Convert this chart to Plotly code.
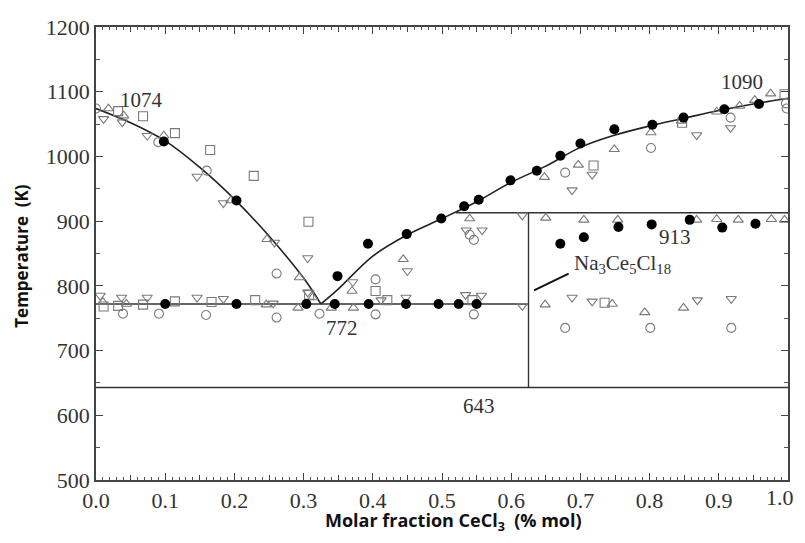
import plotly.graph_objects as go

# ---------------- data ----------------
# liquidus curves
liq_left_x = [0.0, 0.05, 0.10, 0.15, 0.20, 0.25, 0.30, 0.325]
liq_left_y = [1074, 1052, 1024, 983, 934, 877, 812, 772]
liq_right_x = [0.325, 0.35, 0.40, 0.45, 0.50, 0.55, 0.60, 0.65, 0.70, 0.75, 0.80, 0.85, 0.90, 0.95, 1.0]
liq_right_y = [772, 795, 846, 879, 904, 930, 960, 985, 1014, 1033, 1047, 1059, 1071, 1081, 1090]

# invariant lines
eut_x = [0.0, 0.625]
eut_y = [772, 772]
per_x = [0.52, 1.0]
per_y = [913, 913]
comp_x = [0.625, 0.625]
comp_y = [913, 643]
low_x = [0.0, 1.0]
low_y = [643, 643]
lead_x = [0.633, 0.683]
lead_y = [793, 819]

# experimental points
fill_x = [0.098, 0.203, 0.349, 0.393, 0.449, 0.499, 0.532, 0.553, 0.599, 0.637, 0.671, 0.700, 0.749,
          0.804, 0.849, 0.908, 0.958,
          0.100, 0.203, 0.304, 0.345, 0.394, 0.448, 0.495, 0.524, 0.550,
          0.671, 0.705, 0.755, 0.803, 0.858, 0.905, 0.953]
fill_y = [1023, 932, 815, 865, 880, 904, 923, 933, 963, 978, 1001, 1020, 1042,
          1049, 1060, 1073, 1081,
          772, 772, 772, 772, 772, 772, 772, 772, 772,
          865, 875, 891, 895, 902, 890, 896]

circ_x = [0.0, 0.090, 0.160, 0.261, 0.323, 0.404, 0.540, 0.546, 0.678, 0.802, 0.917, 0.998, 0.997,
          0.039, 0.091, 0.159, 0.261, 0.404, 0.546, 0.678, 0.801, 0.918]
circ_y = [1074, 1022, 978, 819, 757, 810, 879, 871, 975, 1013, 1060, 1074, 1082,
          757, 757, 755, 751, 756, 756, 735, 735, 735]

sq_x = [0.032, 0.068, 0.114, 0.165, 0.228, 0.307, 0.308, 0.404, 0.421, 0.719, 0.847, 0.995,
        0.011, 0.032, 0.068, 0.114, 0.167, 0.230, 0.544, 0.735]
sq_y = [1070, 1062, 1036, 1010, 970, 899, 786, 792, 778, 986, 1052, 1096,
        768, 769, 771, 776, 775, 778, 778, 774]

tu_x = [0.018, 0.040, 0.098, 0.195, 0.247, 0.294, 0.313, 0.370, 0.444, 0.540, 0.648, 0.697, 0.749,
        0.802, 0.846, 0.897, 0.930, 0.952, 0.975,
        0.650, 0.705, 0.754, 0.868, 0.897, 0.928, 0.976, 0.995,
        0.010, 0.044, 0.246, 0.292, 0.340, 0.372, 0.649, 0.746, 0.793, 0.849]
tu_y = [1074, 1063, 1032, 932, 872, 813, 782, 792, 841, 904, 968, 987, 1011,
        1037, 1055, 1069, 1078, 1087, 1097,
        905, 902, 902, 902, 903, 902, 903, 902,
        775, 772, 771, 766, 766, 766, 771, 772, 759, 766]

td_x = [0.011, 0.038, 0.074, 0.146, 0.184, 0.258, 0.306, 0.371, 0.450, 0.535, 0.558, 0.616, 0.688,
        0.717, 0.868, 0.917,
        0.006, 0.037, 0.074, 0.146, 0.184, 0.256, 0.306, 0.412, 0.448, 0.534, 0.557, 0.616, 0.688,
        0.717, 0.869, 0.918]
td_y = [1058, 1053, 1032, 969, 928, 867, 843, 806, 823, 886, 886, 909, 948,
        972, 1033, 1044,
        785, 782, 782, 782, 780, 773, 790, 778, 782, 786, 785, 769, 782,
        776, 778, 780]

x_ticks = [0.0, 0.1, 0.2, 0.3, 0.4, 0.5, 0.6, 0.7, 0.8, 0.9, 1.0]
y_ticks = [500, 600, 700, 800, 900, 1000, 1100, 1200]
mid_ticks = [0.05, 0.15, 0.25, 0.35, 0.45, 0.55, 0.65, 0.75, 0.85, 0.95]

labels = [
    dict(text="1074", x=0.066, y=1087, anchor="center"),
    dict(text="1090", x=0.934, y=1115, anchor="center"),
    dict(text="772", x=0.355, y=735, anchor="center"),
    dict(text="913", x=0.836, y=875, anchor="center"),
    dict(text="643", x=0.553, y=615, anchor="center"),
    dict(text="Na<sub>3</sub>Ce<sub>5</sub>Cl<sub>18</sub>", x=0.688, y=834, anchor="left"),
]

# ---------------- figure ----------------
GRAY = "#7a7a7a"
LINE = "#222222"
SERIF = "Liberation Serif, Times New Roman, serif"
SANS = "Open Sans, Noto Sans, sans-serif"

fig = go.Figure()

for xs, ys in [(liq_left_x, liq_left_y), (liq_right_x, liq_right_y)]:
    fig.add_trace(go.Scatter(x=xs, y=ys, mode="lines", line=dict(color=LINE, width=1.6, shape="spline"),
                             hoverinfo="skip", showlegend=False))
for xs, ys in [(eut_x, eut_y), (per_x, per_y), (comp_x, comp_y), (low_x, low_y)]:
    fig.add_trace(go.Scatter(x=xs, y=ys, mode="lines", line=dict(color="#333333", width=1.4),
                             hoverinfo="skip", showlegend=False))
fig.add_trace(go.Scatter(x=lead_x, y=lead_y, mode="lines", line=dict(color="#111111", width=2),
                         hoverinfo="skip", showlegend=False))

open_sets = [
    (circ_x, circ_y, "circle-open"),
    (sq_x, sq_y, "square-open"),
    (tu_x, tu_y, "triangle-up-open"),
    (td_x, td_y, "triangle-down-open"),
]
for xs, ys, sym in open_sets:
    fig.add_trace(go.Scatter(x=xs, y=ys, mode="markers",
                             marker=dict(symbol=sym, size=9, color=GRAY, line=dict(color=GRAY, width=1.1)),
                             showlegend=False))
fig.add_trace(go.Scatter(x=fill_x, y=fill_y, mode="markers",
                         marker=dict(symbol="circle", size=10, color="black"),
                         showlegend=False))
# medium ticks at the half-tenths (drawn as an overlay axis)
fig.add_trace(go.Scatter(x=[0.5], y=[None], xaxis="x2", showlegend=False, hoverinfo="skip"))

for lb in labels:
    fig.add_annotation(x=lb["x"], y=lb["y"], xref="x", yref="y", text=lb["text"], showarrow=False,
                       xanchor=lb["anchor"], yanchor="middle",
                       font=dict(family=SERIF, size=21, color="#333333"))

# the last x tick label sits at the very right edge; it is drawn as an annotation
# nudged just inside the page so that nothing overflows the window
fig.add_annotation(x=x_ticks[-1], y=0, xref="x", yref="paper", text=f"{x_ticks[-1]:.1f}",
                   showarrow=False, xanchor="center", yanchor="middle", xshift=-8, yshift=-17,
                   font=dict(family=SERIF, size=22, color="#333333"))

fig.add_annotation(x=-0.107, y=0.495, xref="paper", yref="paper", text="Temperature  (K)",
                   textangle=-90, showarrow=False, xanchor="center", yanchor="middle",
                   font=dict(family=SANS, size=17, color="#111111", weight="bold"))
fig.add_annotation(x=0.516, y=-0.091, xref="paper", yref="paper",
                   text="Molar fraction CeCl<sub>3</sub>  (% mol)",
                   showarrow=False, xanchor="center", yanchor="middle",
                   font=dict(family=SANS, size=18, color="#111111", weight="bold"))

# page body keeps its default 8px margin, so the figure is sized to fit inside the window
fig.update_layout(
    width=789, height=527,
    margin=dict(l=88, r=7, t=17, b=55),
    paper_bgcolor="white", plot_bgcolor="white",
    xaxis=dict(range=[0, 1], tickvals=x_ticks,
               ticktext=[f"{v:.1f}" for v in x_ticks[:-1]] + [""],
               showline=True, linecolor="#444444", linewidth=1.5, mirror="ticks",
               ticks="inside", ticklen=7, tickcolor="#444444", tickwidth=1,
               minor=dict(dtick=0.01, ticks="inside", ticklen=3, tickcolor="#555555", tickwidth=1),
               showgrid=False, zeroline=False,
               tickfont=dict(family=SERIF, size=22, color="#333333")),
    xaxis2=dict(range=[0, 1], overlaying="x", anchor="y", side="bottom", tickvals=mid_ticks,
                ticks="inside", ticklen=5, tickcolor="#444444", showticklabels=False,
                showline=False, showgrid=False, zeroline=False, mirror="ticks"),
    yaxis=dict(range=[500, 1200], tickvals=y_ticks,
               showline=True, linecolor="#444444", linewidth=1.5, mirror="ticks",
               ticks="inside", ticklen=7, tickcolor="#444444", tickwidth=1,
               minor=dict(dtick=50, ticks="inside", ticklen=4, tickcolor="#555555"),
               showgrid=False, zeroline=False,
               tickfont=dict(family=SERIF, size=22, color="#333333")),
)

fig.write_html("out.html", config={"displayModeBar": False})
